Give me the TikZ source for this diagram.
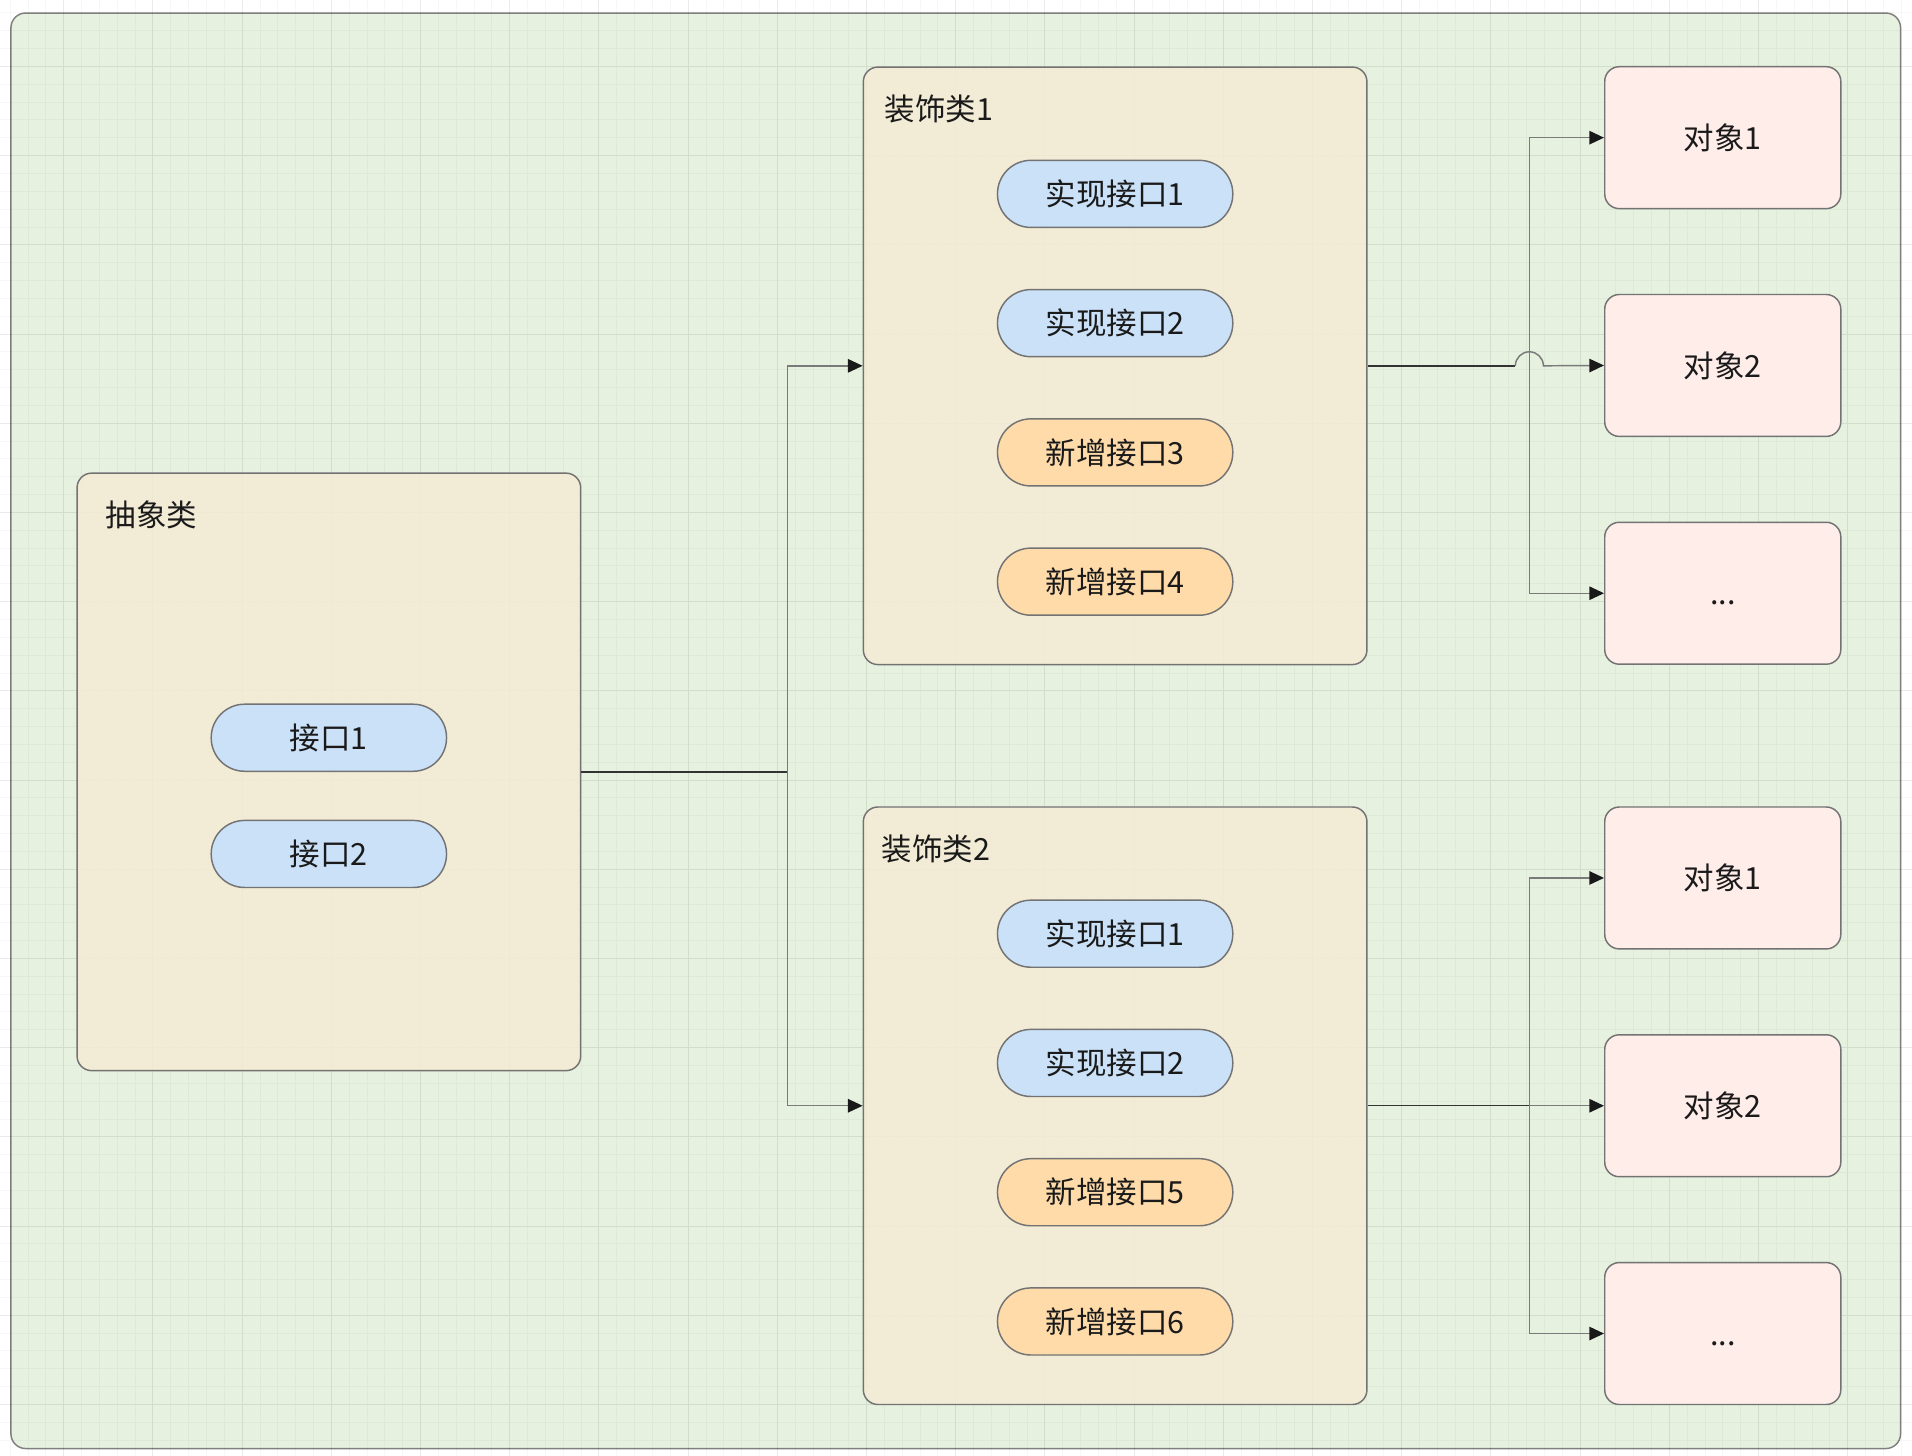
\documentclass[tikz,border=0pt]{standalone}
\usepackage{fontspec}
\newfontfamily\cjk{Noto Sans CJK SC}
\usetikzlibrary{arrows.meta}
\usetikzlibrary{positioning}
\usetikzlibrary{math}
\definecolor{bggreen}{HTML}{E6F1DF}
\definecolor{boxbeige}{HTML}{F5EBD4}
\definecolor{pillblue}{HTML}{CAE1F8}
\definecolor{pillorange}{HTML}{FFDBAA}
\definecolor{objpink}{HTML}{FFEDEA}
\definecolor{edgegray}{HTML}{7A7A7A}
\definecolor{txt}{HTML}{1A1A1A}
\tikzstyle{outerbox} = [draw=black!50, fill=bggreen, rounded corners=6pt, minimum width=774.8pt, minimum height=588.6pt, line width=0.6pt, inner sep=0pt]
\tikzstyle{classbox} = [draw=black!55, fill=boxbeige, fill opacity=0.85, rounded corners=6pt, minimum width=206.5pt, minimum height=245pt, line width=0.6pt, inner sep=0pt]
\tikzstyle{pill} = [draw=black!55, rounded corners=13.7pt, minimum width=96.5pt, minimum height=27.5pt, line width=0.6pt, inner sep=0pt, text=txt]
\tikzstyle{objbox} = [draw=black!55, fill=objpink, rounded corners=6pt, minimum width=96.8pt, minimum height=58.2pt, line width=0.6pt, inner sep=0pt, text height=11pt, text depth=1.5pt, text=txt]
\tikzstyle{boxtitle} = [anchor=west, inner sep=0pt, text=txt]
\tikzstyle{trunk} = [draw=black!80, line width=0.6pt]
\tikzstyle{branch} = [draw=edgegray, line width=0.6pt, -{Triangle[length=6pt,width=5.5pt,color=black!90]}]

\begin{document}
\begin{tikzpicture}[x=0.5pt, y=-0.5pt, node distance=24.9pt, font=\cjk\fontsize{12.5}{15}\selectfont]

  \tikzmath{\W = 1568; \H = 1194; \px = 914.5; \ox = 1412.8;}

  \useasboundingbox (0,0) rectangle (\W,\H);
  \fill[white] (0,0) rectangle (\W,\H);

  % container
  \node[outerbox] (frame) at (783.8,599.3) {};

  % page grid
  \begin{scope}[shift={(52.3,54.5)}]
    \draw[black, draw opacity=0.03, line width=0.4pt, step=7.315pt] (-52.3,-54.5) grid (1515.7,1139.5);
    \draw[black, draw opacity=0.05, line width=0.4pt, step=36.575pt] (-52.3,-54.5) grid (1515.7,1139.5);
  \end{scope}

  % abstract class
  \node[classbox] (abs) at (269.7,633) {};
  \node[boxtitle] (abst) at ([shift={(23.6,34.5)}]abs.north west) {抽象类};
  \node[pill, fill=pillblue] (abs1) at (269.7,605) {接口1};
  \node[pill, fill=pillblue] (abs2) at (269.7,700.3) {接口2};

  % decorator 1
  \node[classbox] (dec1) at (\px,300) {};
  \node[boxtitle] (dec1t) at ([shift={(17.6,35.1)}]dec1.north west) {装饰类1};
  \node[pill, fill=pillblue] (d11) at (\px,159) {实现接口1};
  \node[pill, fill=pillblue, below=of d11] (d12) {实现接口2};
  \node[pill, fill=pillorange, below=of d12] (d13) {新增接口3};
  \node[pill, fill=pillorange, below=of d13] (d14) {新增接口4};

  % decorator 2
  \node[classbox] (dec2) at (\px,906.8) {};
  \node[boxtitle] (dec2t) at ([shift={(15.5,34.9)}]dec2.north west) {装饰类2};
  \node[pill, fill=pillblue] (d21) at (\px,765.7) {实现接口1};
  \node[pill, fill=pillblue, below=of d21] (d22) {实现接口2};
  \node[pill, fill=pillorange, below=of d22] (d23) {新增接口5};
  \node[pill, fill=pillorange, below=of d23] (d24) {新增接口6};

  % objects
  \node[objbox] (obj12) at (\ox,299.7) {对象2};
  \node[objbox, above=34.6pt of obj12] (obj11) {对象1};
  \node[objbox, below=34.6pt of obj12] (obj13) {...};
  \node[objbox] (obj22) at (\ox,906.8) {对象2};
  \node[objbox, above=34.6pt of obj22] (obj21) {对象1};
  \node[objbox, below=34.6pt of obj22] (obj23) {...};

  % connectors
  \coordinate (j0) at ([xshift=84.6pt]abs.east);
  \coordinate (j1) at ([xshift=66.3pt]dec1.east);
  \coordinate (j2) at ([xshift=66.3pt]dec2.east);

  \draw[trunk] (abs.east) -- (j0);
  \draw[branch] (j0) |- (dec1.west);
  \draw[branch] (j0) |- (dec2.west);

  \draw[trunk] (dec1.east) -- ([xshift=-5.75pt]j1);
  \draw[branch] (j1) |- (obj11.west);
  \draw[branch] (j1) |- (obj13.west);
  \draw[branch] ([xshift=-5.75pt]j1) arc[start angle=180, end angle=360, radius=11.5] -- (obj12.west);

  \draw[trunk] (dec2.east) -- (j2);
  \draw[branch] (j2) |- (obj21.west);
  \draw[branch] (j2) -- (obj22.west);
  \draw[branch] (j2) |- (obj23.west);

\end{tikzpicture}
\end{document}
